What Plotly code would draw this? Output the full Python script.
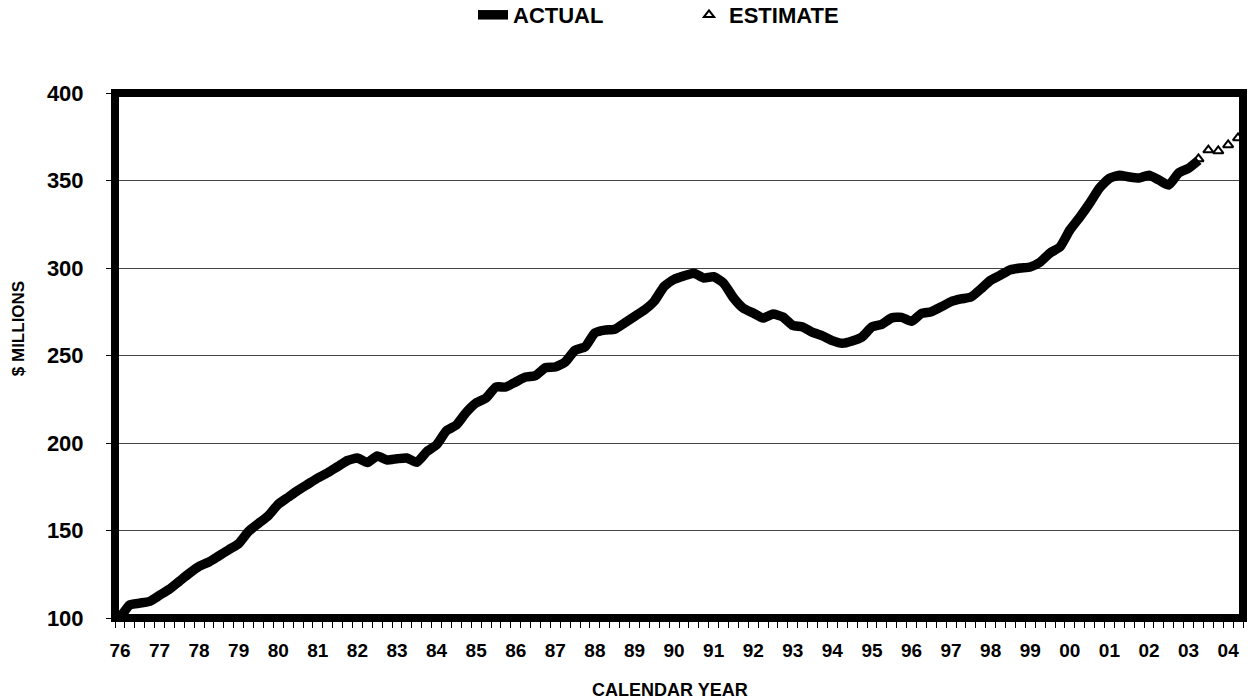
import plotly.graph_objects as go

# Quarterly series, 1976 Q1 onward ($ millions)
actual = [
    100.0, 107.5, 108.5, 109.5, 113.0, 116.5, 121.0, 125.5, 129.5, 132.0,
    135.5, 139.0, 142.5, 149.5, 154.0, 158.5, 165.0, 169.0, 173.0, 176.5,
    180.0, 183.0, 186.5, 190.0, 191.4, 188.8, 192.6, 190.3, 191.0, 191.4,
    189.0, 195.0, 199.0, 207.0, 210.3, 217.5, 222.9, 225.7, 232.0, 232.0,
    234.9, 237.7, 238.5, 243.0, 243.4, 246.3, 253.0, 254.9, 262.9, 264.5,
    265.0, 268.6, 272.3, 276.0, 281.0, 289.5, 293.5, 295.5, 297.0, 294.3,
    295.0, 291.4, 283.0, 277.0, 274.3, 271.4, 273.7, 272.0, 267.2, 266.3,
    263.2, 261.2, 258.5, 257.0, 258.3, 260.6, 266.3, 267.8, 271.5, 271.8,
    269.5, 274.0, 275.0, 277.8, 280.8, 282.3, 283.4, 288.0, 293.0, 296.0,
    299.0, 300.0, 300.6, 303.4, 308.6, 312.0, 321.7, 329.0, 337.0, 345.7,
    351.2, 353.0, 352.0, 351.4, 353.0, 350.3, 347.4, 354.3, 357.0, 361.5,
]
# Projection starting from the last reported quarter
estimate = [362.3, 367.4, 366.9, 370.3, 374.3]

year_labels = ["76", "77", "78", "79", "80", "81", "82", "83", "84", "85",
               "86", "87", "88", "89", "90", "91", "92", "93", "94", "95",
               "96", "97", "98", "99", "00", "01", "02", "03", "04"]
y_ticks = [100, 150, 200, 250, 300, 350, 400]

x_actual = list(range(len(actual)))
est_start = len(actual) - 1
x_estimate = list(range(est_start, est_start + len(estimate)))
last_q = x_estimate[-1]

FONT = "Liberation Sans, Arial, sans-serif"

fig = go.Figure()
fig.add_trace(go.Scatter(
    x=x_actual, y=actual, name="ACTUAL", mode="lines",
    line=dict(color="black", width=9.5, shape="spline", smoothing=0.5),
))
fig.add_trace(go.Scatter(
    x=x_estimate, y=estimate, name="ESTIMATE", mode="markers",
    marker=dict(symbol="triangle-up-open", size=9, color="black",
                line=dict(color="black", width=2)),
))

# heavy frame around the plotting area
fig.add_shape(type="rect", xref="paper", yref="paper", x0=0, y0=0, x1=1, y1=1,
              line=dict(color="black", width=8), layer="above")

# axis titles
fig.add_annotation(text="$ MILLIONS", textangle=-90, xref="paper", yref="paper",
                   x=-0.086, y=0.552, xanchor="center", yanchor="middle",
                   showarrow=False,
                   font=dict(family=FONT, size=17, weight="bold", color="black"))
fig.add_annotation(text="CALENDAR YEAR", xref="paper", yref="paper",
                   x=0.492, y=-0.137, xanchor="center", yanchor="middle",
                   showarrow=False,
                   font=dict(family=FONT, size=18, weight="bold", color="black"))

fig.update_layout(
    width=1248, height=700,
    margin=dict(l=115, r=5, t=93, b=82, autoexpand=False),
    paper_bgcolor="white", plot_bgcolor="white",
    font=dict(family=FONT, color="black", weight="bold"),
    showlegend=True,
    legend=dict(
        orientation="h", xref="container", yref="container",
        x=473 / 1248, xanchor="left", y=1 - 15 / 700, yanchor="middle",
        font=dict(family=FONT, size=22, weight="bold", color="black"),
        entrywidth=171, entrywidthmode="pixels",
        bgcolor="rgba(0,0,0,0)",
    ),
    xaxis=dict(
        range=[-0.5, last_q + 0.5],
        tickmode="array",
        tickvals=[4 * k for k in range(len(year_labels))],
        ticktext=year_labels,
        ticks="",
        ticklabelstandoff=19,
        tickfont=dict(family=FONT, size=19, weight="bold"),
        showgrid=False, zeroline=False, showline=False,
        minor=dict(tickmode="linear", tick0=-0.5, dtick=1, ticks="outside",
                   ticklen=9, tickwidth=1, tickcolor="black", showgrid=False),
    ),
    yaxis=dict(
        range=[100, 400],
        tickmode="array", tickvals=y_ticks,
        ticks="outside", ticklen=8, tickwidth=1, tickcolor="black",
        ticklabelstandoff=18,
        tickfont=dict(family=FONT, size=22, weight="bold"),
        showgrid=True, gridcolor="#444", gridwidth=1,
        zeroline=False, showline=False,
    ),
)

fig.write_html("out.html")
